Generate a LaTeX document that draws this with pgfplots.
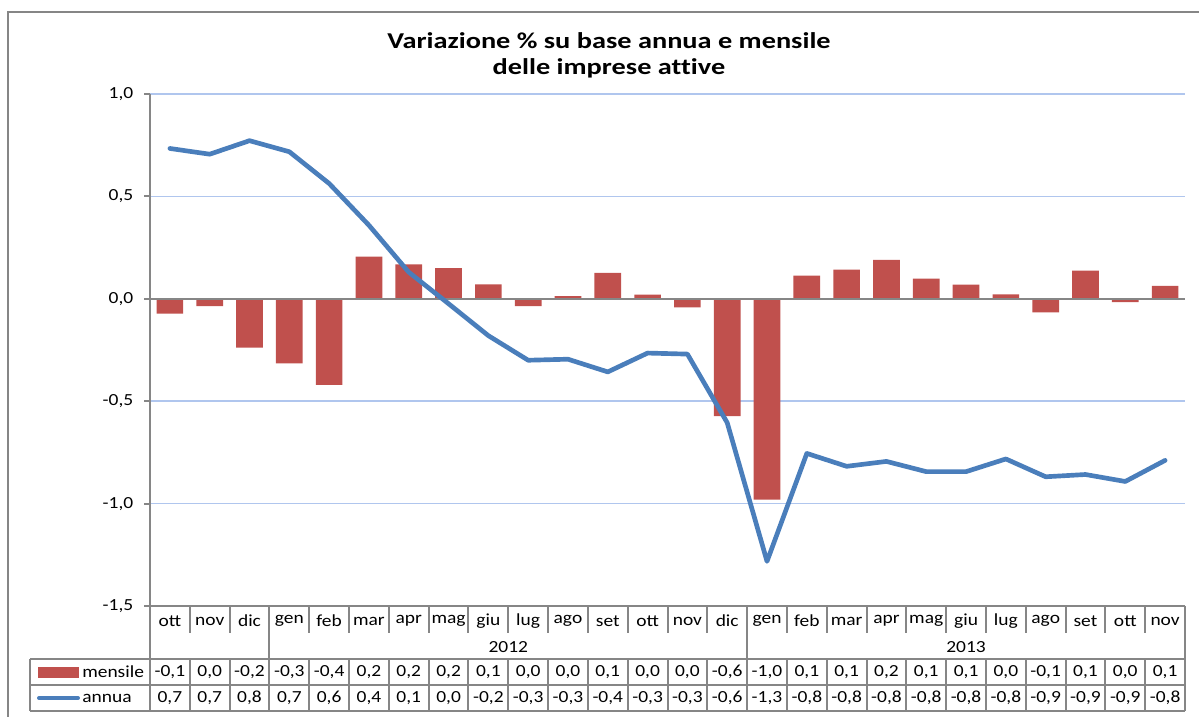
\documentclass[border=0pt]{standalone}
\usepackage{pgfplots}
\pgfplotsset{compat=1.18}
\usepackage{pgfplotstable}
\usepackage{fontspec}
\setmainfont{Carlito}[FakeStretch=1.15]
\newfontfamily\titlefont{Carlito}[FakeStretch=1.25, Ligatures={NoCommon}]

\definecolor{barred}{RGB}{192,80,77}
\definecolor{lineblue}{RGB}{74,126,187}
\definecolor{axgray}{RGB}{134,134,134}
\definecolor{gridblue}{RGB}{176,198,238}

\pgfplotstableread{
idx month mensile annua mtxt atxt
0 ott -0.073 0.734 -0,1 0,7
1 nov -0.036 0.706 0,0 0,7
2 dic -0.238 0.772 -0,2 0,8
3 gen -0.315 0.718 -0,3 0,7
4 feb -0.420 0.563 -0,4 0,6
5 mar 0.206 0.359 0,2 0,4
6 apr 0.168 0.130 0,2 0,1
7 mag 0.150 -0.024 0,2 0,0
8 giu 0.070 -0.180 0,1 -0,2
9 lug -0.036 -0.300 0,0 -0,3
10 ago 0.013 -0.295 0,0 -0,3
11 set 0.126 -0.357 0,1 -0,4
12 ott 0.020 -0.265 0,0 -0,3
13 nov -0.042 -0.270 0,0 -0,3
14 dic -0.573 -0.605 -0,6 -0,6
15 gen -0.980 -1.282 -1,0 -1,3
16 feb 0.113 -0.755 0,1 -0,8
17 mar 0.142 -0.818 0,1 -0,8
18 apr 0.190 -0.794 0,2 -0,8
19 mag 0.098 -0.844 0,1 -0,8
20 giu 0.069 -0.844 0,1 -0,8
21 lug 0.021 -0.782 0,0 -0,8
22 ago -0.066 -0.869 -0,1 -0,9
23 set 0.137 -0.858 0,1 -0,9
24 ott -0.016 -0.892 0,0 -0,9
25 nov 0.063 -0.789 0,1 -0,8
}\data

\newcommand{\lbl}{\fontsize{12.7}{15}\selectfont}

\begin{document}
\begin{tikzpicture}[x=0.75pt,y=0.75pt]
\path[use as bounding box] (0,0) rectangle (1199,717);
% chart border
\draw[axgray, line width=1.5pt] (8,-20) -- (8,705.3) -- (1230,705.3);
% title
\node[font={\titlefont\bfseries\fontsize{17}{20}\selectfont}, anchor=base] at (609,668) {Variazione \% su base annua e mensile};
\node[font={\titlefont\bfseries\fontsize{17}{20}\selectfont}, anchor=base] at (609,642) {delle imprese attive};

\begin{axis}[
 at={(112.5pt,83.25pt)}, anchor=south west,
 scale only axis, width=776.25pt, height=384pt,
 xmin=-0.5, xmax=25.5, ymin=-1.5, ymax=1.0,
 axis x line=bottom, axis y line=left,
 axis line style={-, axgray, line width=1.5pt},
 xtick=\empty,
 ytick={-1.5,-1,-0.5,0,0.5,1},
 ymajorgrids, grid style={gridblue, line width=1.1pt},
 ytick style={axgray, line width=1.5pt}, tick align=outside, major tick length=4.5pt,
 yticklabel style={font=\lbl, xshift=-4.5pt},
 /pgf/number format/.cd, fixed, fixed zerofill, precision=1, use comma, assume math mode=true,
 /pgfplots/.cd,
 clip=false,
]
\addplot[ybar, bar width=0.67, fill=barred, draw=none] table[x=idx,y=mensile] {\data};
\draw[axgray, line width=1.5pt] (axis cs:-0.5,0) -- (axis cs:25.5,0);
\addplot[lineblue, line width=3.5pt, line join=round, line cap=round, mark=none] table[x=idx,y=annua] {\data};
% table rows
\addplot[draw=none, mark=none, point meta=explicit symbolic, nodes near coords,
  every node near coord/.style={anchor=center, font=\lbl, inner sep=0pt}]
  table[x=idx, y expr=-1.5732, meta=month] {\data};
\addplot[draw=none, mark=none, point meta=explicit symbolic, nodes near coords,
  every node near coord/.style={anchor=center, font=\lbl, inner sep=0pt}]
  table[x=idx, y expr=-1.8223, meta=mtxt] {\data};
\addplot[draw=none, mark=none, point meta=explicit symbolic, nodes near coords,
  every node near coord/.style={anchor=center, font=\lbl, inner sep=0pt}]
  table[x=idx, y expr=-1.9492, meta=atxt] {\data};
\end{axis}

% table grid
\begin{scope}[axgray, line width=1.5pt]
\foreach \k in {1,2,4,5,6,7,8,9,10,11,12,13,14,16,17,18,19,20,21,22,23,24,25}
  \draw ({150+39.8077*\k},111) -- ({150+39.8077*\k},84);
\foreach \k in {3,15}
  \draw ({150+39.8077*\k},111) -- ({150+39.8077*\k},58);
\foreach \k in {1,...,25}
  \draw ({150+39.8077*\k},58) -- ({150+39.8077*\k},6);
\draw (150,111) -- (150,6);
\draw (1185,111) -- (1185,6);
\draw (30,58) -- (1185,58);
\draw (30,32) -- (1185,32);
\draw (30,6) -- (1185,6);
\draw (30,58) -- (30,6);
\end{scope}
\node[font=\lbl] at ({150+39.8077*9},70) {2012};
\node[font=\lbl] at ({150+39.8077*20.5},70) {2013};
% legend keys
\fill[barred] (38,39) rectangle (79,50);
\draw[lineblue, line width=3pt, line cap=round] (39,19) -- (78,19);
\node[font=\lbl, anchor=west, inner sep=0pt] at (82,45) {mensile};
\node[font=\lbl, anchor=west, inner sep=0pt] at (82,19) {annua};
\end{tikzpicture}
\end{document}
